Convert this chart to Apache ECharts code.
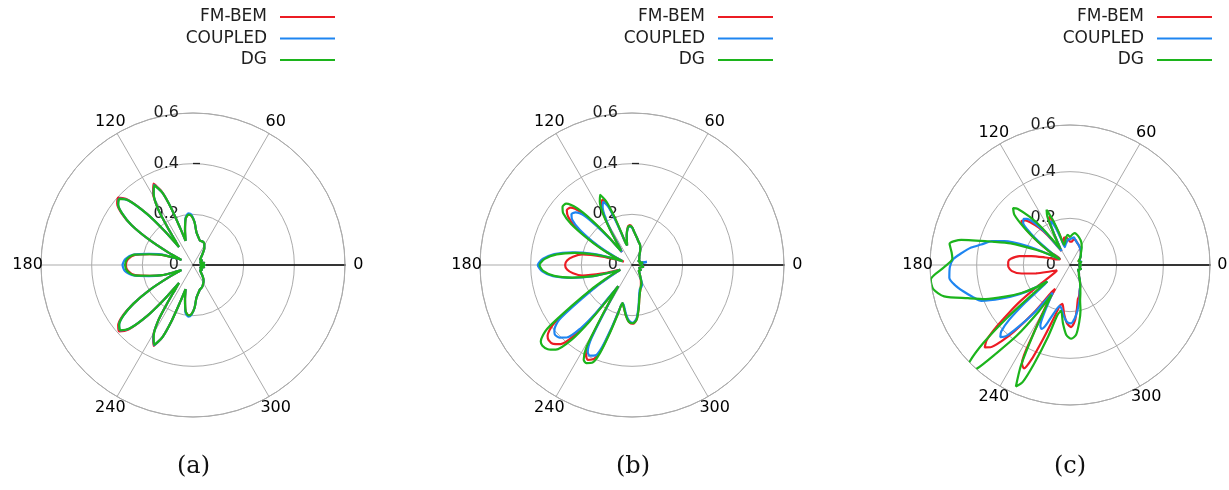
<!DOCTYPE html>
<html>
<head>
<meta charset="utf-8">
<script src="https://cdn.jsdelivr.net/npm/echarts@6/dist/echarts.min.js"></script>
<style>
  html, body { margin: 0; padding: 0; background: #ffffff; }
  #chart { width: 1229px; height: 490px; }
</style>
</head>
<body>
<div id="chart"></div>
<script>
// Far-field patterns, three solvers, three cases.
const SERIES_NAMES = ['FM-BEM', 'COUPLED', 'DG'];
const SERIES_COLORS = ['#ec1c24', '#1e85f1', '#1cb41c'];
const ANGLE_TICKS = [0, 60, 120, 180, 240, 300];
const RADIUS_TICKS = [0, 0.2, 0.4, 0.6];
const CAPTIONS = ['(a)', '(b)', '(c)'];

// ---- case (a): angle in degrees, radius per solver ----
const ANG_A = [0,6,12,20,28,36,44,50,56,62,68,74,80,84,88,92,95,99,103,107,109,111,113,116,119,122,124,126,128,130,132,135,138,141,144,147,150,153,156,159,162,166,170,175,180,
  185,190,194,198,201,204,207,210,213,216,219,222,225,228,230,232,234,236,238,241,244,247,249,251,253,257,261,265,268,272,276,280,286,292,298,304,310,316,324,332,340,348,354,360];
const FMBEM_A = [0.05,0.03,0.045,0.03,0.04,0.035,0.045,0.06,0.08,0.095,0.1,0.1,0.115,0.13,0.17,0.195,0.2,0.185,0.14,0.1,0.15,0.24,0.315,0.357,0.325,0.26,0.18,0.12,0.09,0.18,0.275,0.365,0.398,0.385,0.35,0.29,0.2,0.11,0.05,0.08,0.13,0.175,0.232,0.258,0.265,
  0.258,0.232,0.175,0.13,0.08,0.05,0.11,0.2,0.28,0.345,0.38,0.392,0.36,0.27,0.18,0.09,0.12,0.18,0.26,0.325,0.355,0.31,0.24,0.15,0.1,0.14,0.185,0.2,0.195,0.17,0.13,0.115,0.1,0.095,0.085,0.075,0.06,0.045,0.035,0.04,0.03,0.045,0.03,0.05];
const COUPLED_A = [0.05,0.03,0.045,0.03,0.04,0.035,0.045,0.06,0.08,0.095,0.1,0.1,0.115,0.13,0.17,0.2,0.205,0.188,0.14,0.1,0.15,0.24,0.31,0.352,0.32,0.26,0.18,0.12,0.09,0.18,0.27,0.36,0.392,0.38,0.345,0.29,0.2,0.11,0.05,0.08,0.135,0.18,0.238,0.268,0.278,
  0.27,0.238,0.18,0.13,0.08,0.05,0.11,0.2,0.28,0.34,0.375,0.386,0.355,0.27,0.18,0.09,0.12,0.18,0.26,0.322,0.352,0.31,0.24,0.15,0.1,0.14,0.19,0.205,0.198,0.17,0.13,0.115,0.1,0.095,0.085,0.075,0.06,0.045,0.035,0.04,0.03,0.045,0.03,0.05];
const DG_A = [0.05,0.03,0.045,0.03,0.04,0.035,0.045,0.06,0.08,0.095,0.1,0.1,0.115,0.13,0.17,0.195,0.2,0.185,0.14,0.1,0.15,0.24,0.31,0.35,0.32,0.26,0.18,0.12,0.09,0.18,0.27,0.36,0.39,0.38,0.345,0.29,0.2,0.11,0.05,0.08,0.13,0.175,0.235,0.262,0.268,
  0.262,0.235,0.175,0.13,0.08,0.05,0.11,0.2,0.28,0.34,0.375,0.385,0.355,0.27,0.18,0.09,0.12,0.18,0.26,0.32,0.35,0.31,0.24,0.15,0.1,0.14,0.185,0.2,0.195,0.17,0.13,0.115,0.1,0.095,0.085,0.075,0.06,0.045,0.035,0.04,0.03,0.045,0.03,0.05];

// ---- case (b) ----
const ANG_B = [0,6,12,18,24,30,36,44,50,56,62,68,74,80,86,90,93,96,100,104,106,108,110,112,114.5,117,120,122,124,126,128,130,132,134,137,140,143,146,149,152,155,158,161,164,168,172,176,180,
  184,188,192,196,200,202,205,208,211,214,217,220,222,225,228,231,233,235,237,239,241,243,245,248,250,252,254,256,259,263,267,271,275,279,283,288,293,298,304,312,320,330,340,350,360];
const FMBEM_B = [0.04,0.03,0.045,0.03,0.035,0.03,0.035,0.04,0.045,0.055,0.07,0.085,0.095,0.11,0.13,0.15,0.158,0.152,0.12,0.08,0.09,0.12,0.19,0.255,0.283,0.265,0.21,0.15,0.1,0.075,0.065,0.14,0.22,0.29,0.332,0.336,0.315,0.27,0.2,0.13,0.07,0.035,0.06,0.12,0.2,0.235,0.257,0.264,
  0.257,0.235,0.2,0.12,0.06,0.05,0.07,0.11,0.17,0.26,0.39,0.435,0.443,0.44,0.42,0.35,0.26,0.15,0.1,0.19,0.35,0.4,0.413,0.4,0.36,0.27,0.19,0.155,0.17,0.2,0.225,0.232,0.215,0.17,0.13,0.105,0.09,0.075,0.06,0.045,0.035,0.04,0.03,0.045,0.04];
const COUPLED_B = [0.04,0.035,0.06,0.03,0.035,0.03,0.035,0.04,0.045,0.055,0.07,0.085,0.095,0.11,0.13,0.148,0.152,0.148,0.12,0.08,0.09,0.12,0.18,0.245,0.274,0.255,0.2,0.15,0.1,0.075,0.065,0.13,0.2,0.27,0.305,0.312,0.295,0.25,0.185,0.12,0.065,0.04,0.09,0.16,0.24,0.31,0.352,0.372,
  0.355,0.315,0.245,0.165,0.08,0.05,0.07,0.1,0.16,0.24,0.36,0.4,0.41,0.405,0.385,0.32,0.24,0.14,0.1,0.18,0.33,0.385,0.395,0.385,0.345,0.26,0.19,0.155,0.165,0.195,0.22,0.228,0.21,0.165,0.125,0.1,0.095,0.085,0.06,0.045,0.035,0.04,0.03,0.045,0.04];
const DG_B = [0.04,0.03,0.045,0.03,0.035,0.03,0.035,0.04,0.045,0.055,0.07,0.085,0.095,0.11,0.13,0.15,0.155,0.15,0.12,0.08,0.09,0.13,0.2,0.27,0.304,0.28,0.22,0.16,0.11,0.08,0.07,0.15,0.24,0.31,0.355,0.358,0.34,0.29,0.21,0.14,0.08,0.04,0.08,0.15,0.23,0.3,0.345,0.365,
  0.35,0.31,0.24,0.16,0.08,0.05,0.08,0.12,0.19,0.28,0.42,0.47,0.476,0.47,0.45,0.38,0.28,0.16,0.1,0.2,0.37,0.42,0.427,0.415,0.37,0.28,0.2,0.155,0.17,0.2,0.225,0.23,0.215,0.17,0.13,0.105,0.09,0.08,0.06,0.045,0.035,0.04,0.03,0.045,0.04];

// ---- case (c) ----
const ANG_C = [0,8,16,24,32,40,48,56,64,72,78,82,86,90,94,98,102,106,109,111,113,115,117,119,121,124,127,130,133,135,
  138,141,144,147,150,153,156,160,163,167,170,174,177,181,186,190,194,198,202,206,210,213,216,218,220,222,224,226,228,230,
  233,236,238,240,242,244,246,248,250,253,256,259,263,267,271,275,279,283,286,290,296,302,310,320,330,340,350,360];
const FMBEM_C = [0.05,0.04,0.05,0.04,0.05,0.06,0.07,0.08,0.09,0.1,0.11,0.11,0.1,0.1,0.11,0.12,0.12,0.1,0.14,0.19,0.225,0.21,0.15,0.1,0.07,0.1,0.16,0.21,0.25,0.27,
  0.28,0.24,0.17,0.1,0.05,0.05,0.06,0.08,0.11,0.17,0.22,0.255,0.265,0.265,0.25,0.21,0.15,0.09,0.06,0.07,0.1,0.16,0.26,0.33,0.41,0.48,0.508,0.49,0.44,0.37,
  0.25,0.14,0.12,0.22,0.34,0.47,0.485,0.43,0.34,0.24,0.18,0.17,0.21,0.25,0.266,0.24,0.19,0.15,0.14,0.12,0.1,0.08,0.06,0.05,0.04,0.05,0.04,0.05];
const COUPLED_C = [0.05,0.04,0.05,0.045,0.05,0.06,0.07,0.08,0.09,0.1,0.11,0.12,0.115,0.11,0.11,0.1,0.09,0.08,0.12,0.17,0.2,0.205,0.15,0.1,0.07,0.1,0.17,0.23,0.27,0.28,
  0.27,0.22,0.15,0.09,0.05,0.1,0.2,0.3,0.35,0.39,0.43,0.47,0.5,0.515,0.52,0.5,0.47,0.44,0.41,0.33,0.25,0.18,0.12,0.15,0.25,0.35,0.41,0.43,0.41,0.35,
  0.26,0.17,0.14,0.18,0.24,0.29,0.3,0.28,0.24,0.2,0.18,0.19,0.22,0.245,0.25,0.23,0.2,0.17,0.15,0.12,0.1,0.08,0.06,0.05,0.04,0.05,0.04,0.05];
const DG_C = [0.05,0.04,0.05,0.04,0.05,0.06,0.07,0.09,0.11,0.125,0.135,0.138,0.13,0.12,0.13,0.12,0.1,0.09,0.15,0.21,0.257,0.23,0.16,0.11,0.08,0.12,0.2,0.27,0.33,0.345,
  0.32,0.25,0.17,0.1,0.05,0.1,0.16,0.27,0.34,0.478,0.524,0.51,0.505,0.54,0.6,0.595,0.556,0.46,0.39,0.31,0.24,0.18,0.12,0.2,0.35,0.5,0.6,0.645,0.6,0.5,
  0.38,0.24,0.15,0.2,0.33,0.48,0.57,0.54,0.45,0.32,0.22,0.2,0.25,0.3,0.316,0.3,0.25,0.2,0.157,0.13,0.1,0.08,0.06,0.05,0.04,0.05,0.04,0.05];

const CASES = [
  { angles: ANG_A, radii: [FMBEM_A, COUPLED_A, DG_A] },
  { angles: ANG_B, radii: [FMBEM_B, COUPLED_B, DG_B] },
  { angles: ANG_C, radii: [FMBEM_C, COUPLED_C, DG_C] }
];

// panel placement
const PANELS = [
  { cx: 193, cy: 265, r: 152, legendRight: 889, dash: true },
  { cx: 632, cy: 265, r: 152, legendRight: 451, dash: true },
  { cx: 1070, cy: 265, r: 140, legendRight: 12, dash: false }
];
// angle labels sit just outside the outer ring, centred on their spoke
const ANGLE_LABEL_RADIUS = 0.653;

const FONT = 'DejaVu Sans';
const TEXT = '#1e1e1e';
const GRID = '#ababab';

const polar = [], angleAxis = [], radiusAxis = [], series = [], legend = [], graphic = [];
const rMax = RADIUS_TICKS[RADIUS_TICKS.length - 1];
const rStep = RADIUS_TICKS[1] - RADIUS_TICKS[0];
const aStep = ANGLE_TICKS[1] - ANGLE_TICKS[0];

PANELS.forEach((p, i) => {
  // main polar grid with the radial axis along 0 degrees
  polar.push({ center: [p.cx, p.cy], radius: p.r });
  angleAxis.push({
    polarIndex: i, type: 'value', min: 0, max: 360, interval: aStep,
    startAngle: 0, clockwise: false,
    axisLine: { lineStyle: { color: GRID, width: 1 } },
    axisTick: { show: false },
    splitLine: { lineStyle: { color: GRID, width: 1 } },
    axisLabel: { show: false }
  });
  radiusAxis.push({
    polarIndex: i, type: 'value', min: 0, max: rMax, interval: rStep,
    axisLine: { lineStyle: { color: '#000', width: 1.6 } },
    axisTick: { show: false },
    axisLabel: { show: false },
    splitLine: { lineStyle: { color: GRID, width: 1 } }
  });
});

PANELS.forEach((p, i) => {
  // overlay polar carrying the radius labels on the vertical
  const k = PANELS.length + i;
  polar.push({ center: [p.cx, p.cy], radius: p.r });
  angleAxis.push({ polarIndex: k, type: 'value', min: 0, max: 360, startAngle: 90, show: false });
  radiusAxis.push({
    polarIndex: k, type: 'value', min: 0, max: rMax, interval: rStep,
    axisLine: { show: false },
    splitLine: { show: false },
    axisTick: p.dash
      ? { show: true, customValues: [0.4], inside: true, length: -7, lineStyle: { color: '#222', width: 1.3 } }
      : { show: false },
    axisLabel: {
      margin: 14, color: TEXT, fontFamily: FONT, fontSize: 16,
      formatter: v => (RADIUS_TICKS.some(t => Math.abs(t - v) < 1e-9) ? (v === 0 ? '0' : v.toFixed(1)) : '')
    }
  });
});

CASES.forEach((c, i) => {
  c.radii.forEach((rs, s) => {
    series.push({
      name: SERIES_NAMES[s], type: 'line', coordinateSystem: 'polar', polarIndex: i,
      data: rs.map((r, j) => [r, c.angles[j]]),
      symbol: 'none', smooth: 0.25, clip: false,
      lineStyle: { color: SERIES_COLORS[s], width: 2.2 },
      itemStyle: { color: SERIES_COLORS[s] },
      z: 3 + s
    });
  });
  // angle tick labels, placed through the polar scales
  series.push({
    name: 'angle-labels', type: 'scatter', coordinateSystem: 'polar', polarIndex: i,
    data: ANGLE_TICKS.map(a => [ANGLE_LABEL_RADIUS, a]),
    symbol: 'circle', symbolSize: 1, clip: false, silent: true,
    itemStyle: { color: '#ffffff', opacity: 0 },
    label: {
      show: true, position: 'inside', align: 'center', verticalAlign: 'middle',
      color: '#000000', opacity: 1, fontFamily: FONT, fontSize: 16,
      textBorderWidth: 0,
      formatter: prm => String(prm.value[1])
    },
    emphasis: { disabled: true },
    z: 2
  });
  legend.push({
    data: SERIES_NAMES, orient: 'vertical', right: PANELS[i].legendRight, top: 3,
    align: 'right', icon: 'rect', itemWidth: 55, itemHeight: 2, itemGap: 3.5,
    selectedMode: false,
    textStyle: { fontFamily: FONT, fontSize: 17, color: TEXT, lineHeight: 18, padding: [0, 8, 0, 0] }
  });
  graphic.push({
    type: 'text', left: PANELS[i].cx - 16, top: 455,
    style: { text: CAPTIONS[i], font: '24px "DejaVu Serif"', fill: '#111' }
  });
});

const chart = echarts.init(document.getElementById('chart'), null, { renderer: 'canvas' });
chart.setOption({
  animation: false,
  backgroundColor: '#ffffff',
  polar, angleAxis, radiusAxis, series, legend, graphic
});
</script>
</body>
</html>
